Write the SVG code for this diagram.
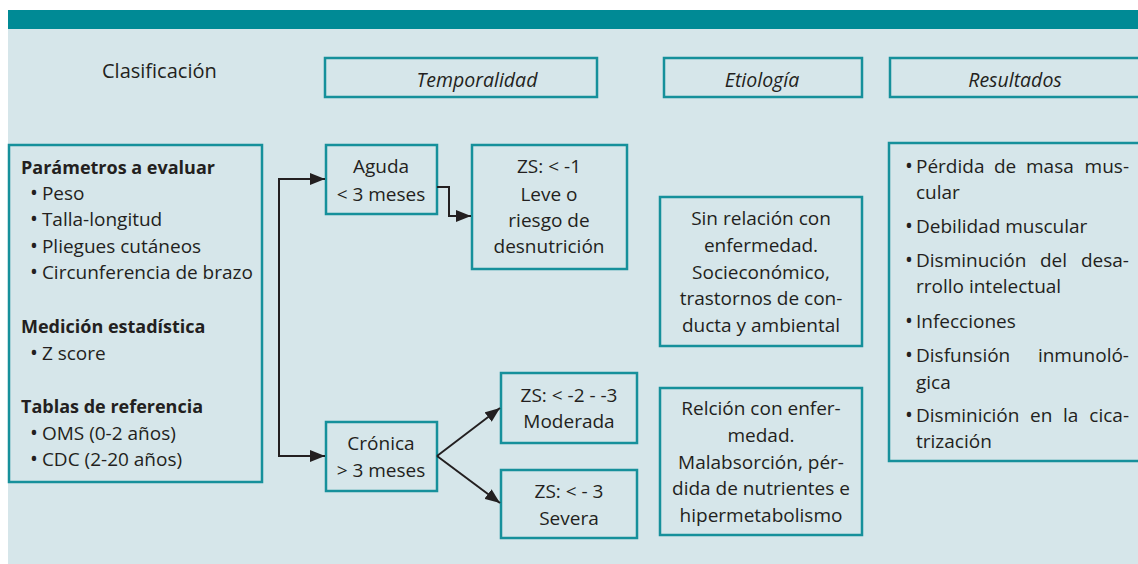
<svg xmlns="http://www.w3.org/2000/svg" width="1138" height="564" viewBox="0 0 1138 564">
<defs>
<style>
.box{fill:none;stroke:#16909b;stroke-width:2.5}
.t{font-family:"Open Sans","Liberation Sans",sans-serif;font-size:19px;fill:#231f20}
.c{text-anchor:middle}
.e{text-anchor:end}
.b{font-weight:bold;font-size:18px}
.i{font-style:italic;font-size:19.5px}
.bu{font-size:21px}
.ln{fill:none;stroke:#231f20;stroke-width:2}
</style>
<marker id="ah" markerUnits="userSpaceOnUse" markerWidth="16" markerHeight="12" refX="15" refY="6" orient="auto">
<path d="M0,0 L15,6 L0,12 z" fill="#231f20"/>
</marker>
</defs>
<rect x="0" y="0" width="1138" height="564" fill="#ffffff"/>
<rect x="8" y="29" width="1130" height="535" fill="#d6e6ea"/>
<rect x="8" y="10" width="1130" height="19" fill="#008a95"/>

<g id="clasificacion">
<text class="t" x="102" y="78" style="font-size:20px">Clasificación</text>
</g>
<g id="temporalidad">
<rect class="box" x="325" y="58" width="272" height="39"/>
<text class="t c i" x="477" y="87">Temporalidad</text>
</g>
<g id="etiologia">
<rect class="box" x="664" y="58" width="198" height="39"/>
<text class="t c i" x="762" y="87">Etiología</text>
</g>
<g id="resultados">
<rect class="box" x="890" y="58" width="260" height="39"/>
<text class="t c i" x="1015" y="87">Resultados</text>
</g>

<g id="parametros">
<rect class="box" x="9" y="145" width="253" height="337"/>
<text class="t b" x="21" y="174">Parámetros a evaluar</text>
<text class="t" x="30" y="200"><tspan class="bu">•</tspan><tspan dx="4">Peso</tspan></text>
<text class="t" x="30" y="226"><tspan class="bu">•</tspan><tspan dx="4">Talla-longitud</tspan></text>
<text class="t" x="30" y="253"><tspan class="bu">•</tspan><tspan dx="4">Pliegues cutáneos</tspan></text>
<text class="t" x="30" y="279"><tspan class="bu">•</tspan><tspan dx="4">Circunferencia de brazo</tspan></text>
<text class="t b" x="21" y="333">Medición estadística</text>
<text class="t" x="30" y="360"><tspan class="bu">•</tspan><tspan dx="4">Z score</tspan></text>
<text class="t b" x="21" y="413">Tablas de referencia</text>
<text class="t" x="30" y="440"><tspan class="bu">•</tspan><tspan dx="4">OMS (0-2 años)</tspan></text>
<text class="t" x="30" y="466"><tspan class="bu">•</tspan><tspan dx="4">CDC (2-20 años)</tspan></text>
</g>

<g id="aguda">
<rect class="box" x="326" y="145" width="111" height="69"/>
<text class="t c" x="381" y="173">Aguda</text>
<text class="t c" x="381" y="201">&lt; 3 meses</text>
</g>
<g id="leve">
<rect class="box" x="472" y="145" width="155" height="124"/>
<text class="t c" x="549" y="173">ZS: &lt; -1</text>
<text class="t c" x="549" y="201">Leve o</text>
<text class="t c" x="549" y="227">riesgo de</text>
<text class="t c" x="549" y="253">desnutrición</text>
</g>
<g id="cronica">
<rect class="box" x="326" y="422" width="111" height="69"/>
<text class="t c" x="381" y="450">Crónica</text>
<text class="t c" x="381" y="477">&gt; 3 meses</text>
</g>
<g id="moderada">
<rect class="box" x="501" y="373" width="136" height="70"/>
<text class="t c" x="569" y="402">ZS: &lt; -2 - -3</text>
<text class="t c" x="569" y="428">Moderada</text>
</g>
<g id="severa">
<rect class="box" x="501" y="470" width="136" height="68"/>
<text class="t c" x="569" y="498">ZS: &lt; - 3</text>
<text class="t c" x="569" y="525">Severa</text>
</g>

<g id="sin-relacion">
<rect class="box" x="660" y="197" width="202" height="149"/>
<text class="t c" x="761" y="225">Sin relación con</text>
<text class="t c" x="761" y="252">enfermedad.</text>
<text class="t c" x="761" y="279">Socieconómico,</text>
<text class="t c" x="761" y="305">trastornos de con-</text>
<text class="t c" x="761" y="332">ducta y ambiental</text>
</g>
<g id="con-relacion">
<rect class="box" x="660" y="388" width="202" height="147"/>
<text class="t c" x="761" y="415">Relción con enfer-</text>
<text class="t c" x="761" y="442">medad.</text>
<text class="t c" x="761" y="469">Malabsorción, pér-</text>
<text class="t c" x="761" y="495">dida de nutrientes e</text>
<text class="t c" x="761" y="522">hipermetabolismo</text>
</g>

<g id="resultados-lista">
<rect class="box" x="889" y="143" width="260" height="318"/>
<text class="t" y="173"><tspan class="bu" x="905">•</tspan><tspan x="916">Pérdida</tspan><tspan x="994">de</tspan><tspan x="1026">masa</tspan></text>
<text class="t e" x="1129" y="173">mus-</text>
<text class="t" x="916" y="199">cular</text>
<text class="t" y="233"><tspan class="bu" x="905">•</tspan><tspan x="916">Debilidad muscular</tspan></text>
<text class="t" y="267"><tspan class="bu" x="905">•</tspan><tspan x="916">Disminución</tspan><tspan x="1040">del</tspan></text>
<text class="t e" x="1129" y="267">desa-</text>
<text class="t" x="916" y="293">rrollo intelectual</text>
<text class="t" y="328"><tspan class="bu" x="905">•</tspan><tspan x="916">Infecciones</tspan></text>
<text class="t" y="362"><tspan class="bu" x="905">•</tspan><tspan x="916">Disfunsión</tspan></text>
<text class="t e" x="1129" y="362">inmunoló-</text>
<text class="t" x="916" y="389">gica</text>
<text class="t" y="422"><tspan class="bu" x="905">•</tspan><tspan x="916">Disminición</tspan><tspan x="1030">en</tspan><tspan x="1063">la</tspan></text>
<text class="t e" x="1129" y="422">cica-</text>
<text class="t" x="916" y="448">trización</text>
</g>

<g id="connectors">
<path class="ln" d="M325,456 H279 V179 H325" marker-end="url(#ah)"/>
<path class="ln" d="M279,456 H325" marker-end="url(#ah)"/>
<path class="ln" d="M437,187 H449 V216 H471" marker-end="url(#ah)"/>
<path class="ln" d="M437,456 L500,408" marker-end="url(#ah)"/>
<path class="ln" d="M437,456 L500,503" marker-end="url(#ah)"/>
</g>
</svg>
